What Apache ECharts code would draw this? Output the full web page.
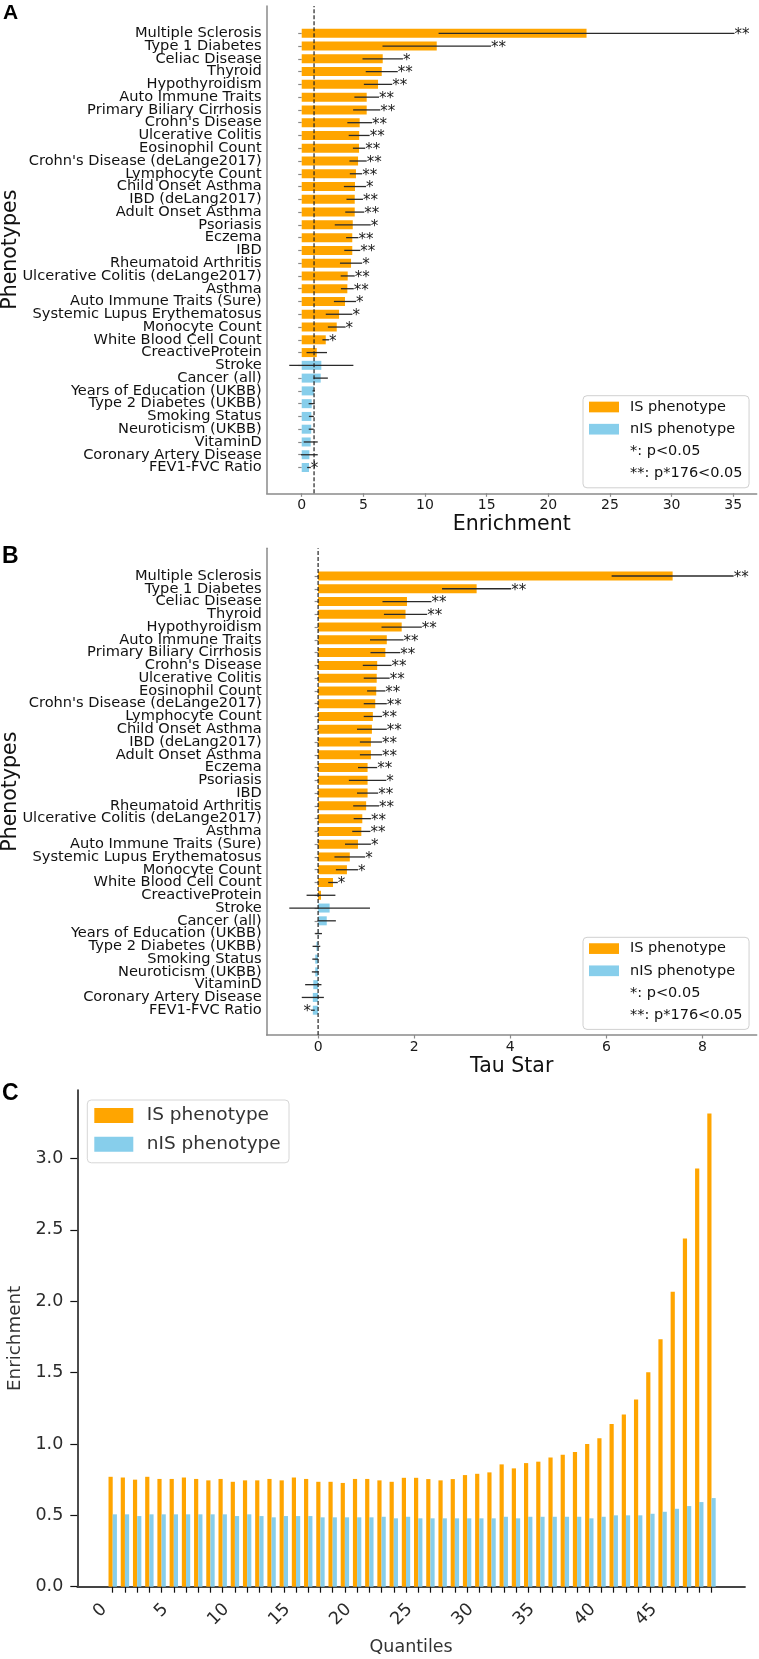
<!DOCTYPE html>
<html><head><meta charset="utf-8">
<script src="https://cdn.jsdelivr.net/npm/echarts@6/dist/echarts.min.js"></script>
<style>html,body{margin:0;padding:0;background:#fff}#chart{width:759px;height:1659px}</style>
</head><body><div id="chart"></div>
<script>
// ---------- Panel A : Enrichment ----------
const phenotypesA = ['Multiple Sclerosis','Type 1 Diabetes','Celiac Disease','Thyroid','Hypothyroidism','Auto Immune Traits','Primary Biliary Cirrhosis',"Crohn's Disease",'Ulcerative Colitis','Eosinophil Count',"Crohn's Disease (deLange2017)",'Lymphocyte Count','Child Onset Asthma','IBD (deLang2017)','Adult Onset Asthma','Psoriasis','Eczema','IBD','Rheumatoid Arthritis','Ulcerative Colitis (deLange2017)','Asthma','Auto Immune Traits (Sure)','Systemic Lupus Erythematosus','Monocyte Count','White Blood Cell Count','CreactiveProtein','Stroke','Cancer (all)','Years of Education (UKBB)','Type 2 Diabetes (UKBB)','Smoking Status','Neuroticism (UKBB)','VitaminD','Coronary Artery Disease','FEV1-FVC Ratio'];
const enrichmentA = [23.1, 10.95, 6.57, 6.49, 6.19, 5.27, 5.27, 4.70, 4.66, 4.65, 4.57, 4.40, 4.32, 4.30, 4.30, 4.14, 4.10, 4.10, 4.00, 3.73, 3.70, 3.51, 3.03, 2.84, 1.95, 1.22, 1.59, 1.54, 0.98, 0.81, 0.78, 0.77, 0.73, 0.62, 0.59];
const enrichmentErrA = [12.0, 4.4, 1.64, 1.3, 1.15, 1.0, 1.1, 1.0, 0.85, 0.5, 0.7, 0.5, 0.9, 0.67, 0.77, 1.46, 0.5, 0.65, 0.9, 0.57, 0.52, 0.9, 1.08, 0.72, 0.27, 0.83, 2.6, 0.58, 0.1, 0.25, 0.2, 0.2, 0.57, 0.68, 0.15];
const significanceA = ['**','**','*','**','**','**','**','**','**','**','**','**','*','**','**','*','**','**','*','**','**','*','*','*','*','','','','','','','','','','*'];
const ticksA = [0, 5, 10, 15, 20, 25, 30, 35];
const nullEnrichment = 1;

// ---------- Panel B : Tau Star ----------
const phenotypesB = ['Multiple Sclerosis','Type 1 Diabetes','Celiac Disease','Thyroid','Hypothyroidism','Auto Immune Traits','Primary Biliary Cirrhosis',"Crohn's Disease",'Ulcerative Colitis','Eosinophil Count',"Crohn's Disease (deLange2017)",'Lymphocyte Count','Child Onset Asthma','IBD (deLang2017)','Adult Onset Asthma','Eczema','Psoriasis','IBD','Rheumatoid Arthritis','Ulcerative Colitis (deLange2017)','Asthma','Auto Immune Traits (Sure)','Systemic Lupus Erythematosus','Monocyte Count','White Blood Cell Count','CreactiveProtein','Stroke','Cancer (all)','Years of Education (UKBB)','Type 2 Diabetes (UKBB)','Smoking Status','Neuroticism (UKBB)','VitaminD','Coronary Artery Disease','FEV1-FVC Ratio'];
const tauStarB = [7.38, 3.30, 1.85, 1.82, 1.74, 1.43, 1.40, 1.23, 1.22, 1.21, 1.19, 1.14, 1.12, 1.10, 1.10, 1.03, 1.03, 1.03, 1.00, 0.92, 0.90, 0.83, 0.66, 0.60, 0.31, 0.06, 0.24, 0.18, 0.01, -0.035, -0.06, -0.06, -0.10, -0.11, -0.11];
const tauStarErrB = [1.27, 0.72, 0.51, 0.45, 0.42, 0.35, 0.31, 0.30, 0.27, 0.19, 0.24, 0.19, 0.31, 0.23, 0.23, 0.20, 0.39, 0.22, 0.27, 0.18, 0.19, 0.27, 0.32, 0.23, 0.10, 0.30, 0.84, 0.19, 0.07, 0.08, 0.06, 0.07, 0.17, 0.23, 0.04];
const significanceB = ['**','**','**','**','**','**','**','**','**','**','**','**','**','**','**','**','*','**','**','**','**','*','*','*','*','','','','','','','','','','*'];
const ticksB = [0, 2, 4, 6, 8];
const nullTau = 0;

const nISPhenotypes = ['Stroke','Cancer (all)','Years of Education (UKBB)','Type 2 Diabetes (UKBB)','Smoking Status','Neuroticism (UKBB)','VitaminD','Coronary Artery Disease','FEV1-FVC Ratio'];

// ---------- Panel C : Enrichment by quantile ----------
const quantiles = Array.from({length: 50}, (_, i) => String(i));
const enrichmentISC = [0.770, 0.765, 0.750, 0.770, 0.755, 0.755, 0.765, 0.755, 0.745, 0.755, 0.735, 0.745, 0.745, 0.755, 0.745, 0.765, 0.755, 0.735, 0.735, 0.727, 0.755, 0.755, 0.745, 0.735, 0.763, 0.763, 0.754, 0.745, 0.754, 0.782, 0.791, 0.801, 0.857, 0.829, 0.866, 0.876, 0.906, 0.925, 0.943, 1.000, 1.040, 1.140, 1.207, 1.312, 1.502, 1.733, 2.066, 2.440, 2.930, 3.315];
const enrichmentNISC = [0.507, 0.507, 0.495, 0.507, 0.507, 0.507, 0.507, 0.507, 0.507, 0.507, 0.495, 0.507, 0.495, 0.486, 0.495, 0.495, 0.495, 0.486, 0.486, 0.486, 0.486, 0.486, 0.490, 0.479, 0.490, 0.479, 0.479, 0.479, 0.479, 0.479, 0.479, 0.479, 0.490, 0.479, 0.490, 0.490, 0.490, 0.490, 0.490, 0.479, 0.490, 0.500, 0.500, 0.500, 0.511, 0.525, 0.546, 0.565, 0.593, 0.621];
const ticksC = [0, 0.5, 1.0, 1.5, 2.0, 2.5, 3.0];

const legendNames = ['IS phenotype', 'nIS phenotype'];
const noteNames = ['*: p<0.05', '**: p*176<0.05'];

// ---------- styling ----------
const FONT = 'DejaVu Sans';
const SPINE = '#8a8a8a';
const ORANGE = '#FFA500';
const BLUE = '#87CEEB';

const chart = echarts.init(document.getElementById('chart'), null, {renderer: 'canvas'});

function errRender(params, api) {
  const y = api.value(2);
  const a = api.coord([api.value(0), y]);
  const b = api.coord([api.value(1), y]);
  return {type: 'line', shape: {x1: a[0], y1: a[1], x2: b[0], y2: b[1]},
          style: {stroke: '#2a2a2a', lineWidth: 1.3}, z2: 5};
}
function sigRender(sigs) {
  return function (params, api) {
    const s = sigs[params.dataIndex];
    if (!s) return null;
    const p = api.coord([api.value(0), api.value(1)]);
    const right = api.value(2) > 0;
    return {type: 'text', x: p[0], y: p[1] + 2,
      style: {text: s, fill: '#1a1a1a', font: '15px "DejaVu Sans"',
              textAlign: right ? 'left' : 'right', align: right ? 'left' : 'right',
              textVerticalAlign: 'middle', verticalAlign: 'middle'}};
  };
}

function panel(names, vals, errs, sigs, nullVal, fx, fy, bx, by) {
  const isIS = names.map(n => !nISPhenotypes.includes(n));
  return [
    {type: 'bar', name: 'IS phenotype', xAxisIndex: bx, yAxisIndex: by, barWidth: 9, barGap: '-100%',
     itemStyle: {color: ORANGE}, data: vals.map((v, i) => isIS[i] ? v : '-')},
    {type: 'bar', name: 'nIS phenotype', xAxisIndex: bx, yAxisIndex: by, barWidth: 9, barGap: '-100%',
     itemStyle: {color: BLUE}, data: vals.map((v, i) => isIS[i] ? '-' : v)},
    {type: 'custom', name: 'err', xAxisIndex: bx, yAxisIndex: by, renderItem: errRender, z: 3,
     encode: {x: [0, 1], y: 2}, data: vals.map((v, i) => [v - errs[i], v + errs[i], i])},
    {type: 'custom', name: 'sig', xAxisIndex: bx, yAxisIndex: by, renderItem: sigRender(sigs), z: 4,
     encode: {x: 0, y: 1}, data: vals.map((v, i) => [v >= 0 ? v + errs[i] : v - errs[i], i, v >= 0 ? 1 : -1])},
    {type: 'line', name: 'null', xAxisIndex: fx, yAxisIndex: fy, symbol: 'none', silent: true, z: 5,
     lineStyle: {type: [4, 2], color: '#222', width: 1.2}, data: [[nullVal, 0], [nullVal, 1]]},
    {type: 'line', name: noteNames[0], xAxisIndex: bx, yAxisIndex: by, data: []},
    {type: 'line', name: noteNames[1], xAxisIndex: bx, yAxisIndex: by, data: []}
  ];
}

function frameX(grid, min, max, ticks, name) {
  return {gridIndex: grid, type: 'value', min: min, max: max,
    axisLine: {show: true, onZero: false, lineStyle: {color: SPINE, width: 1.5}},
    axisTick: {show: true, customValues: ticks, length: 3.5, lineStyle: {color: SPINE, width: 1.2}},
    axisLabel: {customValues: ticks, fontSize: 14, color: '#1a1a1a', fontFamily: FONT, margin: 5},
    splitLine: {show: false},
    name: name, nameLocation: 'middle', nameGap: 21,
    nameTextStyle: {fontSize: 20.5, fontFamily: FONT, color: '#111'}};
}
function frameY(grid) {
  return {gridIndex: grid, type: 'value', min: 0, max: 1,
    axisLine: {show: true, onZero: false, lineStyle: {color: SPINE, width: 1.5}},
    axisTick: {show: false}, axisLabel: {show: false}, splitLine: {show: false},
    name: 'Phenotypes', nameLocation: 'middle', nameRotate: 90, nameGap: 246,
    nameTextStyle: {fontSize: 20.5, fontFamily: FONT, color: '#111'}};
}
function catY(grid, names) {
  return {gridIndex: grid, type: 'category', inverse: true, data: names,
    axisLine: {show: false},
    axisTick: {show: true, alignWithLabel: true, interval: 0, length: 3.5, lineStyle: {color: SPINE, width: 1.2}},
    axisLabel: {interval: 0, fontSize: 14.6, color: '#111', fontFamily: FONT, margin: 5}};
}
function hiddenX(grid, min, max) {
  return {gridIndex: grid, type: 'value', min: min, max: max, show: false};
}
function noteLegend(top) {
  return {left: 583, top: top, orient: 'vertical', selectedMode: false,
    data: [{name: legendNames[0]}, {name: legendNames[1]}, {name: noteNames[0], icon: 'none'}, {name: noteNames[1], icon: 'none'}],
    icon: 'rect', itemWidth: 30, itemHeight: 10.7, itemGap: 7.2,
    padding: [3.8, 6.5, 6.7, 6], backgroundColor: '#fff', borderColor: '#d0d0d0', borderWidth: 1, borderRadius: 4,
    textStyle: {fontFamily: FONT, fontSize: 14.5, color: '#111', padding: [0, 0, 0, 6]}};
}

const option = {
  animation: false,
  backgroundColor: '#fff',
  title: [
    {text: 'A', left: 3, top: 3.2, padding: 0, textStyle: {fontSize: 21, fontWeight: 'bold', fontFamily: 'Liberation Sans', color: '#000'}},
    {text: 'B', left: 2, top: 545.3, padding: 0, textStyle: {fontSize: 23, fontWeight: 'bold', fontFamily: 'Liberation Sans', color: '#000'}},
    {text: 'C', left: 2, top: 1082, padding: 0, textStyle: {fontSize: 23, fontWeight: 'bold', fontFamily: 'Liberation Sans', color: '#000'}}
  ],
  grid: [
    {left: 266.7, width: 490, top: 6, height: 487.3, outerBoundsMode: 'none'},
    {left: 266.7, width: 490, top: 26.9, height: 447, outerBoundsMode: 'none'},
    {left: 266.7, width: 490, top: 548.3, height: 486.7, outerBoundsMode: 'none'},
    {left: 266.7, width: 490, top: 569.6, height: 447, outerBoundsMode: 'none'},
    {left: 77.3, width: 667.7, top: 1090, height: 496.7, outerBoundsMode: 'none'},
    {left: 106.6, width: 611, top: 1090, height: 496.7, outerBoundsMode: 'none'}
  ],
  xAxis: [
    frameX(0, -2.84, 36.9, ticksA, 'Enrichment'),
    hiddenX(1, -2.84, 36.9),
    frameX(2, -1.07, 9.13, ticksB, 'Tau Star'),
    hiddenX(3, -1.07, 9.13),
    {gridIndex: 4, type: 'value', min: 0, max: 1,
     axisLine: {show: true, onZero: false, lineStyle: {color: '#444', width: 1.8}},
     axisTick: {show: false}, axisLabel: {show: false}, splitLine: {show: false},
     name: 'Quantiles', nameLocation: 'middle', nameGap: 51.5,
     nameTextStyle: {fontSize: 17.5, fontFamily: FONT, color: '#333'}},
    {gridIndex: 5, type: 'category', data: quantiles,
     axisLine: {show: false},
     axisTick: {show: true, alignWithLabel: true, interval: 0, length: 6, lineStyle: {color: '#111', width: 1.2}},
     axisLabel: {interval: 4, rotate: 45, margin: 11.5, padding: [0, 12, 0, 0], fontSize: 17.5, color: '#2b2b2b', fontFamily: FONT}}
  ],
  yAxis: [
    frameY(0),
    catY(1, phenotypesA),
    frameY(2),
    catY(3, phenotypesB),
    {gridIndex: 4, type: 'value', min: 0, max: 3.48,
     axisLine: {show: true, onZero: false, lineStyle: {color: '#111', width: 1.5}},
     axisTick: {show: true, customValues: ticksC, length: 7, lineStyle: {color: '#111', width: 1.2}},
     axisLabel: {customValues: ticksC, formatter: v => v.toFixed(1), fontSize: 17.5, color: '#2b2b2b', fontFamily: FONT, margin: 14},
     splitLine: {show: false},
     name: 'Enrichment', nameLocation: 'middle', nameRotate: 90, nameGap: 50,
     nameTextStyle: {fontSize: 18.3, fontFamily: FONT, color: '#333'}},
    {gridIndex: 5, type: 'value', min: 0, max: 3.48, show: false}
  ],
  legend: [
    noteLegend(395.7),
    noteLegend(937.3),
    {left: 87.3, top: 1100, orient: 'vertical', selectedMode: false, data: legendNames,
     icon: 'rect', itemWidth: 39, itemHeight: 15, itemGap: 9.8,
     padding: [6, 8.3, 9, 7], backgroundColor: '#fff', borderColor: '#d6d6d6', borderWidth: 1, borderRadius: 4,
     textStyle: {fontFamily: FONT, fontSize: 18.5, color: '#333', padding: [0, 0, 0, 8.4]}}
  ],
  series: [].concat(
    panel(phenotypesA, enrichmentA, enrichmentErrA, significanceA, nullEnrichment, 0, 0, 1, 1),
    panel(phenotypesB, tauStarB, tauStarErrB, significanceB, nullTau, 2, 2, 3, 3),
    [
      {type: 'bar', name: 'IS phenotype', xAxisIndex: 5, yAxisIndex: 5, barWidth: 4.2, barGap: '0%',
       itemStyle: {color: ORANGE}, data: enrichmentISC},
      {type: 'bar', name: 'nIS phenotype', xAxisIndex: 5, yAxisIndex: 5, barWidth: 4.2, barGap: '0%',
       itemStyle: {color: BLUE}, data: enrichmentNISC}
    ]
  )
};
chart.setOption(option);
</script>
</body></html>
